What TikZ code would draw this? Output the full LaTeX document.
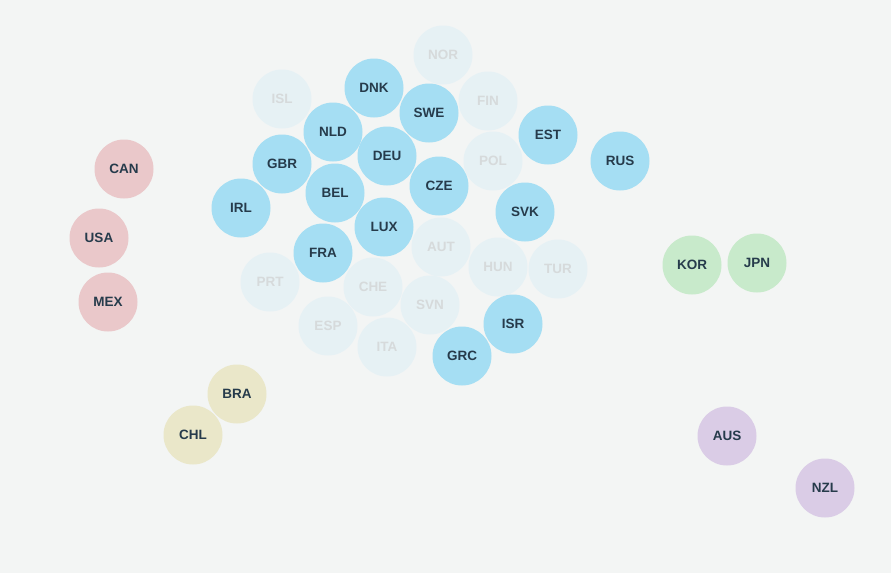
\documentclass[tikz,border=0pt]{standalone}
\usepackage{fontspec}
\setmainfont{Liberation Sans}
\definecolor{fondo}{HTML}{F3F5F4}
\definecolor{azul}{HTML}{A5DEF3}
\definecolor{palido}{HTML}{E6F1F4}
\definecolor{rojo}{HTML}{EAC8CA}
\definecolor{amarillo}{HTML}{EAE7C9}
\definecolor{verde}{HTML}{C8EACB}
\definecolor{lila}{HTML}{DACCE6}
\definecolor{texto}{HTML}{263B4B}
\definecolor{textopalido}{HTML}{D6DADB}
\tikzset{
  pais/.style={circle, minimum size=59pt, inner sep=0pt, text=texto,
    font=\fontsize{13.5}{14}\selectfont\bfseries},
  apagado/.style={pais, fill=palido, text=textopalido},
}
\begin{document}
\begin{tikzpicture}[x=1pt,y=-1pt]
		%fondo
		\fill[fondo] (0,0) rectangle (891,573);
		\useasboundingbox (0,0) rectangle (891,573);
		%%%% PAISES APAGADOS
		\node[apagado] at (443,55) (nor) {NOR};
		\node[apagado] at (282,99) (isl) {ISL};
		\node[apagado] at (488,101) (fin) {FIN};
		\node[apagado] at (493,161) (pol) {POL};
		\node[apagado] at (441,247) (aut) {AUT};
		\node[apagado] at (498,267) (hun) {HUN};
		\node[apagado] at (558,269) (tur) {TUR};
		\node[apagado] at (270,282) (prt) {PRT};
		\node[apagado] at (373,287) (che) {CHE};
		\node[apagado] at (430,305) (svn) {SVN};
		\node[apagado] at (328,326) (esp) {ESP};
		\node[apagado] at (387,347) (ita) {ITA};
		%%%% EUROPA
		\node[pais, fill=azul] at (374,88) (dnk) {DNK};
		\node[pais, fill=azul] at (429,113) (swe) {SWE};
		\node[pais, fill=azul] at (333,132) (nld) {NLD};
		\node[pais, fill=azul] at (548,135) (est) {EST};
		\node[pais, fill=azul] at (387,156) (deu) {DEU};
		\node[pais, fill=azul] at (620,161) (rus) {RUS};
		\node[pais, fill=azul] at (282,164) (gbr) {GBR};
		\node[pais, fill=azul] at (335,193) (bel) {BEL};
		\node[pais, fill=azul] at (439,186) (cze) {CZE};
		\node[pais, fill=azul] at (241,208) (irl) {IRL};
		\node[pais, fill=azul] at (525,212) (svk) {SVK};
		\node[pais, fill=azul] at (384,227) (lux) {LUX};
		\node[pais, fill=azul] at (323,253) (fra) {FRA};
		\node[pais, fill=azul] at (513,324) (isr) {ISR};
		\node[pais, fill=azul] at (462,356) (grc) {GRC};
		%%%% AMERICA
		\node[pais, fill=rojo] at (124,169) (can) {CAN};
		\node[pais, fill=rojo] at (99,238) (usa) {USA};
		\node[pais, fill=rojo] at (108,302) (mex) {MEX};
		\node[pais, fill=amarillo] at (237,394) (bra) {BRA};
		\node[pais, fill=amarillo] at (193,435) (chl) {CHL};
		%%%% ASIA Y OCEANIA
		\node[pais, fill=verde] at (692,265) (kor) {KOR};
		\node[pais, fill=verde] at (757,263) (jpn) {JPN};
		\node[pais, fill=lila] at (727,436) (aus) {AUS};
		\node[pais, fill=lila] at (825,488) (nzl) {NZL};
\end{tikzpicture}
\end{document}
